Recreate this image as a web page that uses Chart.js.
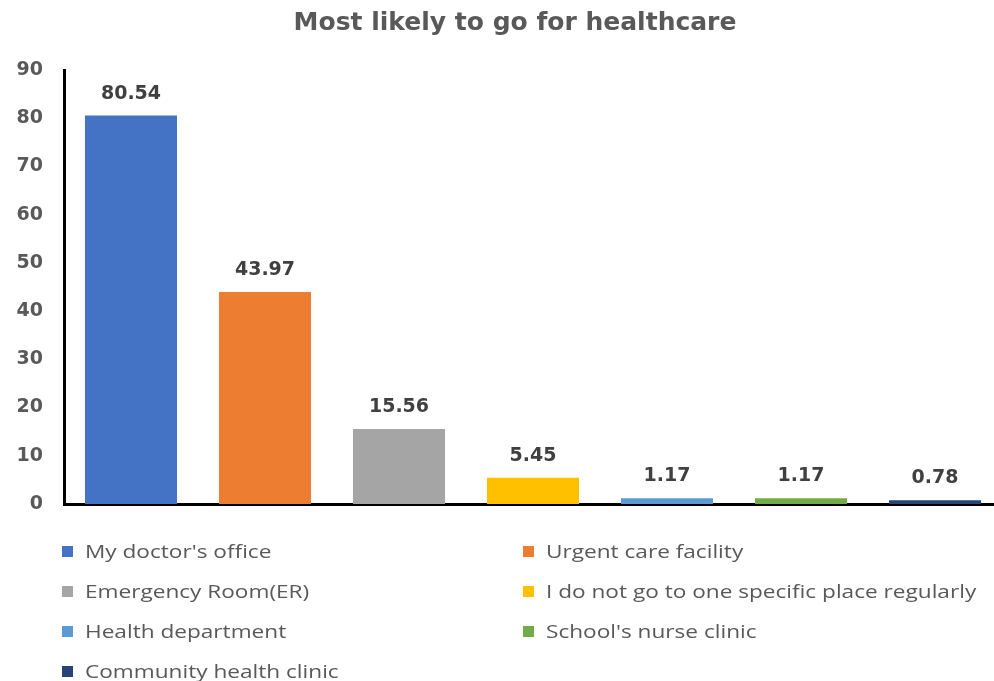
<!DOCTYPE html>
<html>
<head>
<meta charset="utf-8">
<script src="https://cdn.jsdelivr.net/npm/chart.js@4/dist/chart.umd.min.js"></script>
<style>
  html, body { margin: 0; padding: 0; background: #fff; overflow: hidden; width: 994px; height: 681px; }
  #wrap { position: absolute; left: 0; top: 0; width: 1030px; height: 681px; }
  #legend { position: absolute; left: 0; top: 0; width: 994px; height: 681px; pointer-events: none;
            font-family: "Open Sans", sans-serif; font-size: 19px; color: #595959; }
  .item { position: absolute; white-space: nowrap; line-height: 24px; }
  .sw { display: inline-block; width: 11px; height: 11px; margin-right: 12px; vertical-align: 1px; }
  .tx { display: inline-block; transform: scaleX(1.19); transform-origin: left center; }
</style>
</head>
<body>
<div id="wrap"><canvas id="c" width="1030" height="681"></canvas></div>
<div id="legend"></div>
<script>
const titleText = "Most likely to go for healthcare";
const categories = ["My doctor's office", "Urgent care facility", "Emergency Room(ER)",
  "I do not go to one specific place regularly", "Health department",
  "School's nurse clinic", "Community health clinic"];
const values = [80.54, 43.97, 15.56, 5.45, 1.17, 1.17, 0.78];
const colors = ["#4472C4", "#ED7D31", "#A5A5A5", "#FFC000", "#5B9BD5", "#70AD47", "#264478"];
const yTicks = [0, 10, 20, 30, 40, 50, 60, 70, 80, 90];

const valueLabels = {
  id: 'valueLabels',
  afterDatasetsDraw(chart) {
    const ctx = chart.ctx;
    const meta = chart.getDatasetMeta(0);
    ctx.save();
    ctx.font = 'bold 19px "DejaVu Sans", sans-serif';
    ctx.fillStyle = '#404040';
    ctx.textAlign = 'center';
    ctx.textBaseline = 'alphabetic';
    meta.data.forEach((bar, i) => {
      ctx.fillText(values[i].toFixed(2), bar.x, bar.y - 17);
    });
    ctx.restore();
  }
};

const chart = new Chart(document.getElementById('c'), {
  type: 'bar',
  data: {
    labels: categories,
    datasets: [{
      data: values,
      yAxisID: 'y',
      backgroundColor: colors,
      borderWidth: 0,
      categoryPercentage: 1.0,
      barPercentage: 0.687
    }]
  },
  options: {
    responsive: false,
    animation: false,
    events: [],
    layout: { padding: { left: 0, right: 0, top: 0, bottom: 177 } },
    plugins: {
      legend: { display: false },
      tooltip: { enabled: false },
      title: {
        display: true,
        text: titleText,
        color: '#595959',
        font: { family: '"DejaVu Sans", sans-serif', size: 25, weight: 'bold', lineHeight: 1.2 },
        padding: { top: 8, bottom: 32 }
      }
    },
    scales: {
      x: {
        grid: { display: false, drawTicks: false },
        border: { display: true, color: '#000', width: 3 },
        ticks: { display: false },
        afterFit(s) { s.height = 0; }
      },
      y: {
        min: 0, max: 90,
        afterBuildTicks(s) { s.ticks = yTicks.map(v => ({ value: v })); },
        grid: { display: false, drawTicks: false },
        border: { display: true, color: '#000', width: 3 },
        ticks: {
          padding: 21,
          color: '#595959',
          font: { family: '"DejaVu Sans", sans-serif', size: 19, weight: 'bold' }
        },
        afterFit(s) { s.width = 64; }
      },
      yRight: {
        position: 'right',
        min: 0, max: 90,
        grid: { display: false, drawTicks: false },
        border: { display: false },
        ticks: { display: false },
        afterFit(s) { s.width = 28; }
      }
    }
  },
  plugins: [valueLabels]
});

// HTML legend in two columns
const legend = document.getElementById('legend');
const colX = [62, 523];
const rowY = [539, 579, 619, 659];
categories.forEach((name, i) => {
  const d = document.createElement('div');
  d.className = 'item';
  d.style.left = colX[i % 2] + 'px';
  d.style.top = rowY[Math.floor(i / 2)] + 'px';
  const sw = document.createElement('span');
  sw.className = 'sw';
  sw.style.background = colors[i];
  d.appendChild(sw);
  const t = document.createElement('span');
  t.className = 'tx';
  t.textContent = name;
  d.appendChild(t);
  legend.appendChild(d);
});
</script>
</body>
</html>
